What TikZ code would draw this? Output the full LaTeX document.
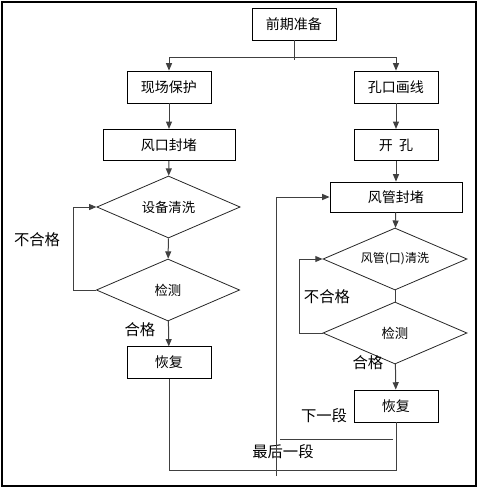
\documentclass[tikz,border=0pt]{standalone}
\usepackage{fontspec}
\setmainfont{Noto Sans CJK SC}
\usetikzlibrary{shapes.geometric,arrows.meta}
\begin{document}
\begin{tikzpicture}[x=0.75pt,y=-0.75pt,
  boxn/.style={draw=black,line width=0.65pt,rectangle,inner sep=0pt,font=\fontsize{10.5pt}{12pt}\selectfont},
  dia/.style={draw=black!85,line width=0.6pt,diamond,inner sep=0pt,aspect=2.3,minimum width=107.5pt,minimum height=46.5pt,font=\fontsize{10pt}{12pt}\selectfont},
  con/.style={draw=black!75,line width=0.75pt},
  arr/.style={con,-{Triangle[length=5.5pt,width=4.5pt]}},
  lbl/.style={inner sep=0pt,font=\fontsize{11.5pt}{13pt}\selectfont}]
\useasboundingbox (0,0) rectangle (478,487);
\draw[black,line width=1.2pt] (2,2) rectangle (476,486);
% boxes
\node[boxn,minimum width=63pt,minimum height=24pt] (pre) at (294,24) {前期准备};
\node[boxn,minimum width=63pt,minimum height=24pt] (xc) at (169,87) {现场保护};
\node[boxn,minimum width=63pt,minimum height=24pt] (kk) at (396,87) {孔口画线};
\node[boxn,minimum width=99pt,minimum height=23.5pt] (fk) at (169,145) {风口封堵};
\node[boxn,minimum width=63pt,minimum height=23.5pt] (kh) at (396,145) {开\ \ 孔};
\node[dia] (d1) at (168.5,207) {设备清洗};
\node[dia] (d2) at (168,290) {检测};
\node[boxn,minimum width=63pt,minimum height=23.5pt] (hf1) at (169,362.5) {恢复};
\node[boxn,minimum width=99pt,minimum height=22.5pt] (fg) at (396,197) {风管封堵};
\node[dia,minimum width=108pt,font=\fontsize{9pt}{11pt}\selectfont] (d3) at (395,259) {风管(口)清洗};
\node[dia,minimum width=108pt] (d4) at (395,333) {检测};
\node[boxn,minimum width=63pt,minimum height=24pt] (hf2) at (396,406) {恢复};
% labels
\node[lbl] (l1) at (37,240) {不合格};
\node[lbl] (l2) at (140,330) {合格};
\node[lbl] (l3) at (327,297) {不合格};
\node[lbl] (l4) at (368,363) {合格};
\node[lbl] (l5) at (324,416) {下一段};
\node[lbl] (l6) at (283,452) {最后一段};
% coordinates
\coordinate (j) at (294,57);
\coordinate (jb) at (294,60);
\coordinate (lp1) at (73,290);
\coordinate (lp2) at (299,333);
\coordinate (bot) at (396,470);
\coordinate (n1) at (393,439);
\coordinate (n2) at (280,439);
\coordinate (vb) at (276,476);
% connectors
\draw[con] (pre.south) -- (jb);
\draw[arr] (j) -| (xc.north);
\draw[arr] (j) -| (kk.north);
\draw[arr] (xc) -- (fk);
\draw[arr] (kk) -- (kh);
\draw[arr] (kh) -- (fg);
\draw[arr] (fg) -- (d3);
\draw[arr] (fk) -- (d1);
\draw[arr] (d1) -- (d2);
\draw[arr] (d2) -- (hf1);
\draw[con] (d3) -- (d4);
\draw[arr] (d4) -- (hf2);
\draw[con] (d2.west) -- (lp1);
\draw[arr] (lp1) |- (d1.west);
\draw[con] (d4.west) -- (lp2);
\draw[arr] (lp2) |- (d3.west);
\draw[con] (hf1.south) |- (bot) -- (hf2.south);
\draw[con] (n1) -- (n2);
\draw[arr] (vb) |- (fg.west);
\end{tikzpicture}
\end{document}
